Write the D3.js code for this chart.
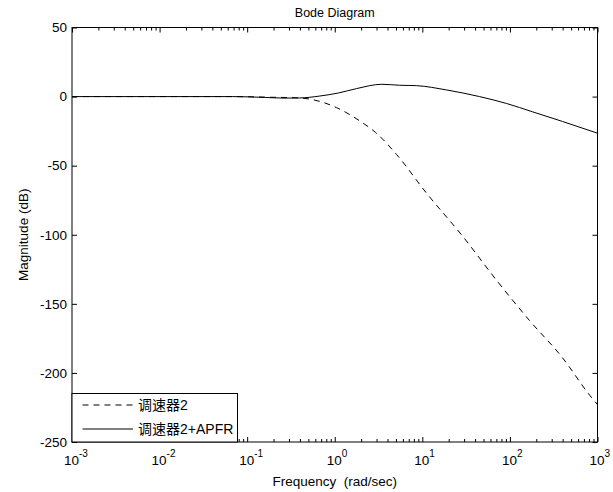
<!DOCTYPE html>
<html>
<head>
<meta charset="utf-8">
<script src="https://cdn.jsdelivr.net/npm/d3@7"></script>
<style>
  body { margin: 0; background: #fff; }
  svg { display: block; }
  text { font-family: "Liberation Sans", Arial, "Noto Sans CJK SC", sans-serif; fill: #000; }
</style>
</head>
<body>
<div id="chart"></div>
<script>
// Frequencies (rad/sec) and magnitudes (dB)
const govFreq = [0.001, 0.0686, 0.158, 0.398, 0.676, 1.05, 1.48, 2.08, 2.93, 5.09, 11.2, 28.8, 70.5, 167, 398, 811, 1000];
const govMag  = [0, 0, -0.4, -1.0, -3.5, -8, -13, -19, -26, -42, -70, -101, -133, -162, -189, -216, -223];

const apfrFreq = [0.001, 0.0686, 0.158, 0.269, 0.398, 0.676, 1.1, 1.78, 3.44, 5.5, 8.6, 18.9, 45, 91.6, 181, 398, 1000];
const apfrMag  = [0, 0, -0.6, -1.1, -1.0, 0.4, 2.6, 5.8, 8.9, 8.2, 7.9, 4.8, 0, -5, -11, -18, -26.5];

const xMajorTicks = [1e-3, 1e-2, 1e-1, 1e0, 1e1, 1e2, 1e3];
const xTickExponents = ["-3", "-2", "-1", "0", "1", "2", "3"];
const yTicks = [50, 0, -50, -100, -150, -200, -250];

const seriesNames = ["调速器2", "调速器2+APFR"];

const width = 613, height = 492;
const margin = {top: 27.5, right: 15.5, bottom: 50, left: 72};
const plotW = width - margin.left - margin.right,
    plotH = height - margin.top - margin.bottom;

const svg = d3.select("#chart")
    .append("svg")
    .attr("width", width)
    .attr("height", height);

const g = svg.append("g")
    .attr("transform", `translate(${margin.left},${margin.top})`);

const x = d3.scaleLog()
    .domain([1e-3, 1e3])
    .range([0, plotW]);

const y = d3.scaleLinear()
    .domain([-250, 50])
    .range([plotH, 0]);

// minor ticks 2..9 in every decade
const minorTicks = [];
xMajorTicks.slice(0, -1).forEach(d => {
    for (let k = 2; k <= 9; k++) minorTicks.push(d * k);
});

function styleAxis(sel) {
    sel.select(".domain").remove();
    sel.selectAll("line").attr("stroke", "#000").attr("stroke-width", 1);
}

// bottom & top ticks (pointing inward)
g.append("g")
    .attr("transform", `translate(0,${plotH})`)
    .call(d3.axisBottom(x).tickValues(xMajorTicks).tickSize(-5).tickFormat(() => ""))
    .call(styleAxis);
g.append("g")
    .attr("transform", `translate(0,${plotH})`)
    .call(d3.axisBottom(x).tickValues(minorTicks).tickSize(-3).tickFormat(() => ""))
    .call(styleAxis);
g.append("g")
    .call(d3.axisTop(x).tickValues(xMajorTicks).tickSize(-5).tickFormat(() => ""))
    .call(styleAxis);
g.append("g")
    .call(d3.axisTop(x).tickValues(minorTicks).tickSize(-3).tickFormat(() => ""))
    .call(styleAxis);

// left & right ticks
g.append("g")
    .call(d3.axisLeft(y).tickValues(yTicks).tickSize(-5).tickPadding(5).tickFormat(d => String(d)))
    .call(styleAxis)
    .call(a => a.selectAll("text").attr("font-size", 13.5).attr("font-family", "Liberation Sans, Arial, sans-serif"));
g.append("g")
    .attr("transform", `translate(${plotW},0)`)
    .call(d3.axisRight(y).tickValues(yTicks).tickSize(-5).tickFormat(() => ""))
    .call(styleAxis);

// x tick labels as 10^n
const xLabels = g.append("g");
xMajorTicks.forEach((d, i) => {
    const t = xLabels.append("text")
        .attr("x", x(d) - 8)
        .attr("y", plotH + 23)
        .attr("font-size", 13.5);
    t.append("tspan").text("10");
    t.append("tspan")
        .attr("dy", -8)
        .attr("font-size", 10)
        .text(xTickExponents[i]);
});

// box
g.append("rect")
    .attr("width", plotW)
    .attr("height", plotH)
    .attr("fill", "none")
    .attr("stroke", "#000")
    .attr("stroke-width", 1);

const line = d3.line()
    .x(d => x(d[0]))
    .y(d => y(d[1]))
    .curve(d3.curveMonotoneX);

g.append("path")
    .datum(d3.zip(govFreq, govMag))
    .attr("d", line)
    .attr("fill", "none")
    .attr("stroke", "#000")
    .attr("stroke-width", 1)
    .attr("stroke-dasharray", "6,5");

g.append("path")
    .datum(d3.zip(apfrFreq, apfrMag))
    .attr("d", line)
    .attr("fill", "none")
    .attr("stroke", "#000")
    .attr("stroke-width", 1);

// legend
const legend = g.append("g");
legend.append("rect")
    .attr("x", 0)
    .attr("y", plotH - 48.5)
    .attr("width", 165.5)
    .attr("height", 48.5)
    .attr("fill", "#fff")
    .attr("stroke", "#000");

const legendDash = ["6,5", null];
seriesNames.forEach((name, i) => {
    const ly = plotH - 37 + i * 24;
    legend.append("line")
        .attr("x1", 10.5).attr("x2", 61)
        .attr("y1", ly).attr("y2", ly)
        .attr("stroke", "#000")
        .attr("stroke-dasharray", legendDash[i]);
    legend.append("text")
        .attr("x", 66)
        .attr("y", ly)
        .attr("dy", "0.36em")
        .attr("font-size", 14)
        .text(name);
});

// titles
svg.append("text")
    .attr("x", margin.left + plotW / 2)
    .attr("y", 17)
    .attr("text-anchor", "middle")
    .attr("font-size", 12.5)
    .text("Bode Diagram");

svg.append("text")
    .attr("x", margin.left + plotW / 2)
    .attr("y", 486)
    .attr("text-anchor", "middle")
    .attr("font-size", 13.5)
    .style("white-space", "pre")
    .text("Frequency  (rad/sec)");

svg.append("text")
    .attr("transform", `translate(28,${margin.top + y(-100)}) rotate(-90)`)
    .attr("text-anchor", "middle")
    .attr("font-size", 13.5)
    .text("Magnitude (dB)");
</script>
</body>
</html>
